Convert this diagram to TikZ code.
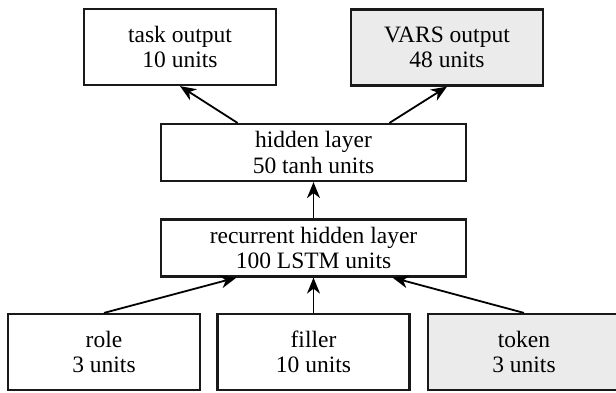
\documentclass[tikz,border=0pt]{standalone}
\usepackage{fontspec}
\setmainfont{Liberation Serif}
\usetikzlibrary{arrows.meta}
\begin{document}
\begin{tikzpicture}[x=1pt,y=-1pt,
  layerbox/.style={draw=black!90, line width=2.2pt, minimum width=192pt, minimum height=76pt,
    inner sep=0pt, align=center, font=\fontsize{23.5}{25.5}\selectfont, text=black},
  widebox/.style={layerbox, minimum width=305pt, minimum height=57pt},
  extra/.style={fill=black!8},
  conn/.style={line width=1.8pt, draw=black, -{Stealth[length=16pt,width=13pt,inset=5pt]}}]
  \useasboundingbox (0,0) rectangle (616,392);

  % output layers
  \node[layerbox] (task) at (180,47) {task output\\10 units};
  \node[layerbox, extra] (vars) at (447,47.5) {VARS output\\48 units};

  % hidden layers
  \node[widebox] (hidden) at (313.5,152.5) {hidden layer\\50 tanh units};
  \node[widebox] (rec) at (313.5,248) {recurrent hidden layer\\100 LSTM units};

  % input layers
  \node[layerbox] (role) at (104,352) {role\\3 units};
  \node[layerbox] (filler) at (313.5,352) {filler\\10 units};
  \node[layerbox, extra] (token) at (524,352) {token\\3 units};

  % connections
  \draw[conn] ([xshift=-76pt]hidden.north) -- (task.south);
  \draw[conn] ([xshift=76pt]hidden.north) -- (vars.south);
  \draw[conn] (rec.north) -- (hidden.south);
  \draw[conn] (role.north) -- ([xshift=-77pt]rec.south);
  \draw[conn] (filler.north) -- (rec.south);
  \draw[conn] (token.north) -- ([xshift=79pt]rec.south);
\end{tikzpicture}
\end{document}
